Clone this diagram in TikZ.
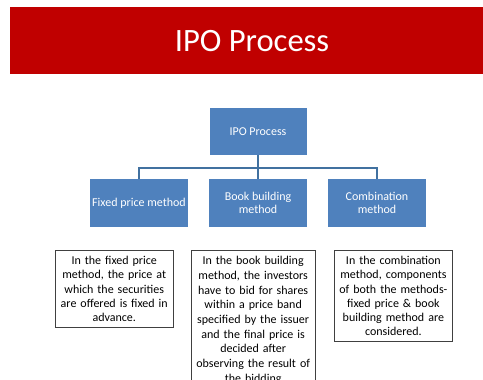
\documentclass[tikz,border=0pt]{standalone}
\usepackage{fontspec}
\setmainfont{Carlito}
\definecolor{slidered}{RGB}{192,0,0}
\definecolor{boxblue}{RGB}{79,129,189}
\definecolor{linkblue}{RGB}{65,113,160}

\begin{document}
\begin{tikzpicture}[x=1pt,y=-1pt,node distance=119pt,
  banner/.style={fill=slidered,minimum width=473pt,minimum height=67pt,inner sep=0pt},
  title text/.style={text=white,inner sep=0pt,font=\fontsize{32.6}{36}\selectfont},
  head node/.style={fill=boxblue,text=white,minimum width=97pt,minimum height=47pt,
    inner sep=2pt,align=center,font=\fontsize{12}{12.5}\selectfont},
  method node/.style={head node,minimum width=98pt,minimum height=48pt},
  note node/.style={draw=black!75,line width=0.8pt,anchor=north west,inner xsep=3pt,
    inner ysep=6pt,align=center,font=\fontsize{12}{14.2}\selectfont},
  link/.style={draw=linkblue,line width=1.7pt}]
\useasboundingbox (0,0) rectangle (483,380);
\clip (0,0) rectangle (483,380);
\fill[white] (0,0) rectangle (483,380);

% slide heading
\node[banner] (band) at (246.5,40.5) {};
\node[title text] (title) at (252,41.2) {IPO Process};

% tree of methods
\node[method node] (book) at (258,203) {Book building\\method};
\node[method node] (fixed) [left of=book] {Fixed price method};
\node[method node] (combo) [right of=book] {Combination\\method};
\node[head node] (ipo) [above of=book,node distance=71.5pt] {IPO Process};

\coordinate (bus) at (258,167.7);
\path[link] (ipo) -- (bus);
\path[link] (fixed.north) |- (bus) -| (combo.north);
\path[link] (bus) -- (book);

% notes under each method
\node[note node,text width=111.7pt] (fixednote) at (55,250)
  {In the fixed price\\method, the price at\\which the securities\\are offered is fixed in\\advance.};
\node[note node,text width=117.5pt,font=\fontsize{12}{14.7}\selectfont] (booknote) at (191,250)
  {In the book building\\method, the investors\\have to bid for shares\\within a price band\\specified by the issuer\\and the final price is\\decided after\\observing the result of\\the bidding};
\node[note node,text width=112pt] (combonote) at (334,250)
  {In the combination\\method, components\\of both the methods-\\fixed price \& book\\building method are\\considered.};
\end{tikzpicture}
\end{document}
